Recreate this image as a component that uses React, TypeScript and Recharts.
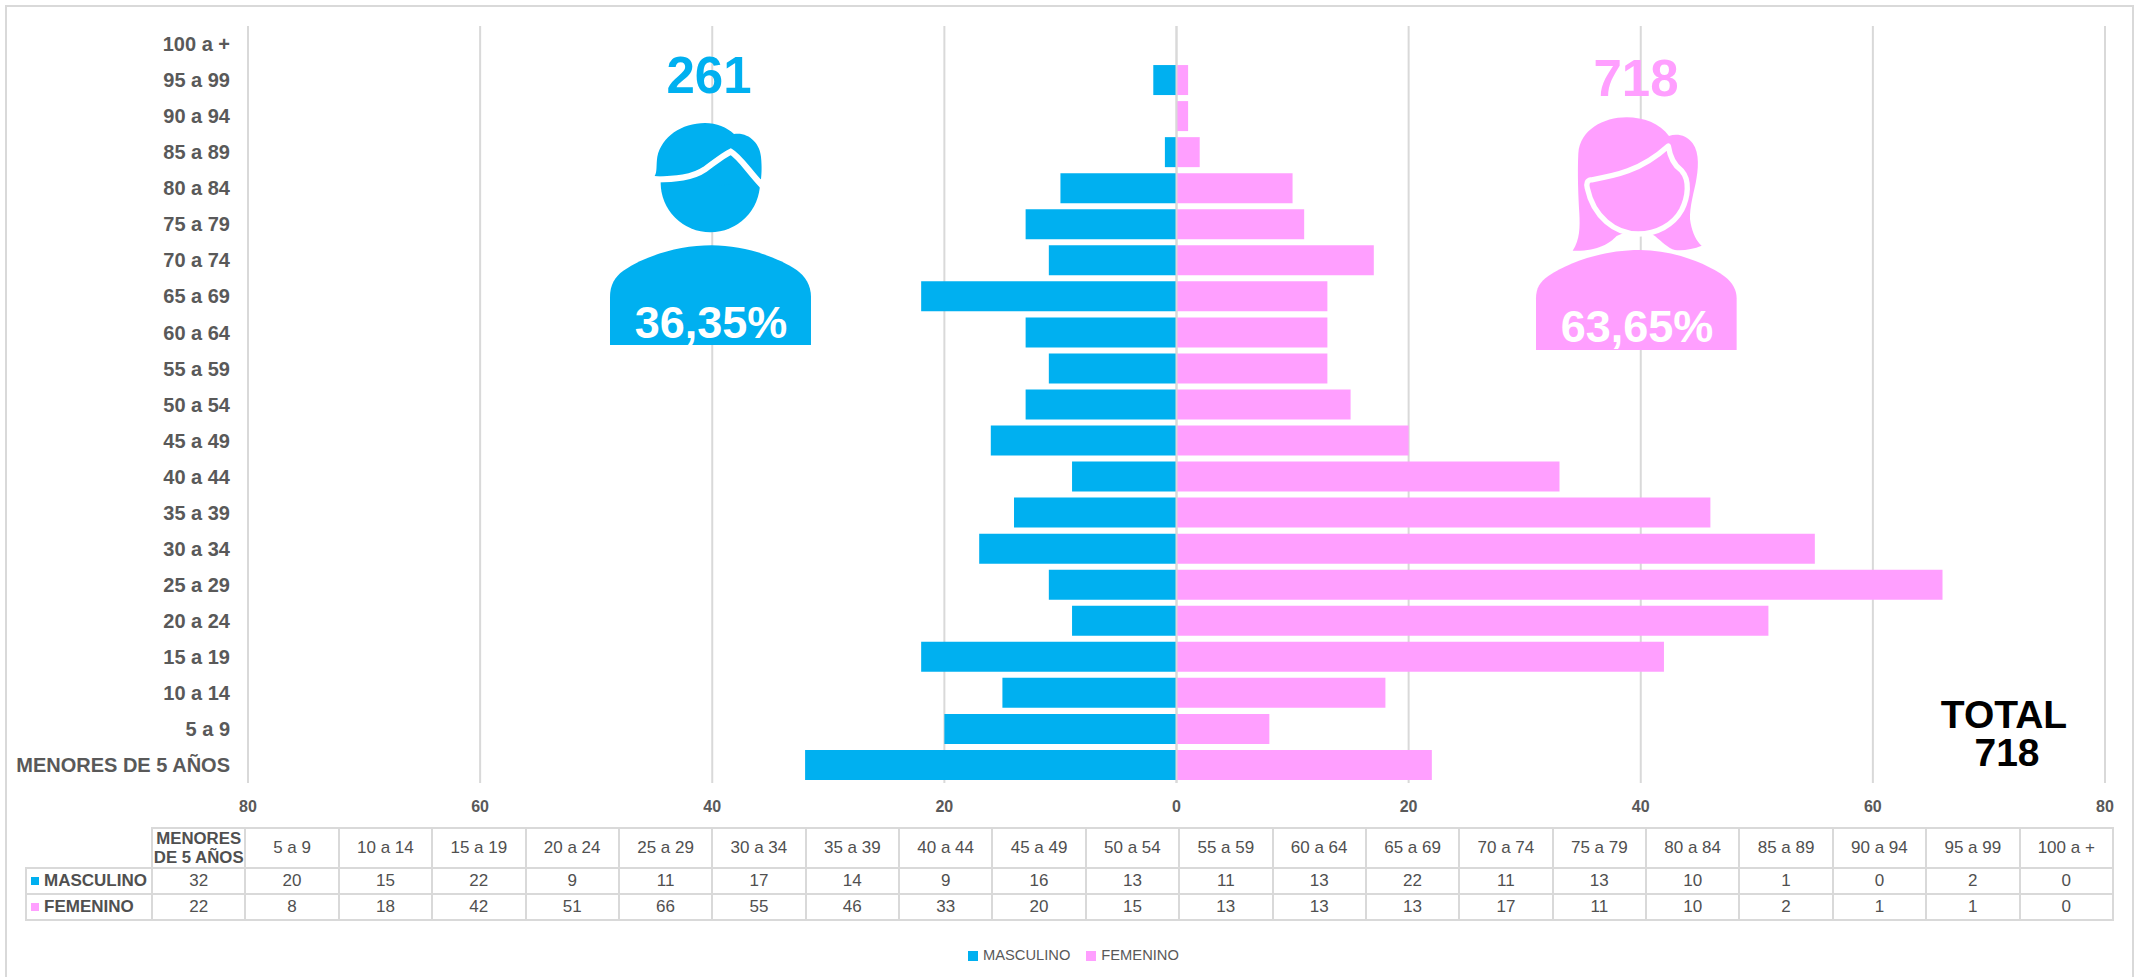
import { BarChart, Bar, XAxis, YAxis, CartesianGrid, Legend, ReferenceLine } from "recharts";

const BLUE = "#00B0F0";
const PINK = "#FF9FFF";
const GRID = "#D9D9D9";
const TEXT = "#595959";
const font = "'Liberation Sans', Arial, sans-serif";

const AGE_GROUPS = [
  "MENORES DE 5 AÑOS", "5 a 9", "10 a 14", "15 a 19", "20 a 24", "25 a 29", "30 a 34",
  "35 a 39", "40 a 44", "45 a 49", "50 a 54", "55 a 59", "60 a 64", "65 a 69",
  "70 a 74", "75 a 79", "80 a 84", "85 a 89", "90 a 94", "95 a 99", "100 a +",
];
const MASCULINO = [32, 20, 15, 22, 9, 11, 17, 14, 9, 16, 13, 11, 13, 22, 11, 13, 10, 1, 0, 2, 0];
const FEMENINO = [22, 8, 18, 42, 51, 66, 55, 46, 33, 20, 15, 13, 13, 13, 17, 11, 10, 2, 1, 1, 0];
const X_TICKS = [-80, -60, -40, -20, 0, 20, 40, 60, 80];
const SERIES_NAMES = ["MASCULINO", "FEMENINO"];

const chartData = AGE_GROUPS.map((name, i) => ({
  name,
  masculino: -MASCULINO[i],
  femenino: FEMENINO[i],
}));

const cell = {
  border: "2px solid #D9D9D9",
  padding: 0,
  textAlign: "center",
  fontSize: 17,
  color: "#505050",
} as const;

function DataTable() {
  const rows = [
    { label: SERIES_NAMES[0], color: BLUE, values: MASCULINO },
    { label: SERIES_NAMES[1], color: PINK, values: FEMENINO },
  ];
  return (
    <table
      style={{
        position: "absolute",
        left: 25,
        top: 827,
        width: 2089,
        height: 92,
        borderCollapse: "collapse",
        tableLayout: "fixed",
        fontFamily: font,
      }}
    >
      <colgroup>
        <col style={{ width: 126 }} />
        {AGE_GROUPS.map((g) => (
          <col key={g} />
        ))}
      </colgroup>
      <tbody>
        <tr style={{ height: 39 }}>
          <td style={{ ...cell, borderTop: "none", borderLeft: "none" }} />
          {AGE_GROUPS.map((g, i) => (
            <td key={g} style={{ ...cell, ...(i === 0 ? { fontWeight: 700, lineHeight: "19px", fontSize: 16.8 } : {}) }}>
              {g}
            </td>
          ))}
        </tr>
        {rows.map((r) => (
          <tr key={r.label} style={{ height: 26 }}>
            <td style={{ ...cell, textAlign: "left", fontWeight: 700, whiteSpace: "nowrap", paddingLeft: 4 }}>
              <span style={{ display: "inline-block", width: 8, height: 8, background: r.color, marginRight: 5, verticalAlign: 1 }} />
              {r.label}
            </td>
            {r.values.map((v, i) => (
              <td key={AGE_GROUPS[i]} style={cell}>
                {v}
              </td>
            ))}
          </tr>
        ))}
      </tbody>
    </table>
  );
}

function Figures() {
  const big = { fontFamily: font, fontWeight: 700, textAnchor: "middle" } as const;
  return (
    <svg width={2137} height={977} style={{ position: "absolute", left: 0, top: 0, pointerEvents: "none" }}>
      <text x={709} y={93} fontSize={51} fill={BLUE} {...big}>261</text>
      <g transform="translate(580,40) scale(0.3333)" fill={BLUE}>
        <circle cx={391} cy={428} r={149} />
        <path d="M224 408C232 395 228 375 232 350C245 290 305 249 375 249C410 249 440 262 462 282C505 275 540 310 543 350C546 380 545 400 543 418L400 440Z" />
        <path d="M205 418C290 420 340 412 375 388C400 370 430 345 452 335C480 350 510 400 550 440" fill="none" stroke="#fff" strokeWidth={18} />
        <path d="M90 915L90 770C90 735 105 710 130 692C200 645 300 616 395 616C490 616 590 650 650 690C675 708 693 735 693 770L693 915Z" />
      </g>
      <text x={711} y={338} fontSize={45} fill="#fff" {...big}>36,35%</text>

      <text x={1636} y={96} fontSize={51} fill={PINK} {...big}>718</text>
      <g transform="translate(1500,40) scale(0.3333)" fill={PINK}>
        <path d="M218 632C240 600 240 560 238 520C235 470 232 400 235 340C240 270 310 232 380 232C430 232 480 250 507 288C530 280 560 285 578 310C600 340 595 390 587 430C578 470 565 520 572 550C578 580 590 605 605 617C580 627 550 633 525 630C505 625 485 605 465 588L415 560L350 588C330 610 290 635 218 632Z" />
        <path d="M272 420C340 408 420 395 505 318C510 350 520 375 545 392C570 420 565 470 545 510C520 555 470 582 415 582C345 582 280 530 262 445C258 430 262 422 272 420Z" stroke="#fff" strokeWidth={16} strokeLinejoin="round" />
        <path d="M108 930L108 775C108 745 120 725 145 708C210 665 310 630 420 630C520 630 620 670 675 710C698 728 710 750 710 775L710 930Z" />
      </g>
      <text x={1637} y={342} fontSize={45} fill="#fff" {...big}>63,65%</text>

      <text x={2004} y={728} fontSize={39} fill="#000" {...big}>TOTAL</text>
      <text x={2007} y={766} fontSize={39} fill="#000" {...big}>718</text>
    </svg>
  );
}

function LegendRow() {
  const colors = [BLUE, PINK];
  return (
    <div style={{ display: "flex", fontFamily: font, fontSize: 14.7, color: TEXT, lineHeight: "17px" }}>
      {SERIES_NAMES.map((name, i) => (
        <span key={name} style={{ display: "flex", alignItems: "center", marginRight: 16 }}>
          <span style={{ width: 10, height: 10, background: colors[i], marginRight: 5 }} />
          {name}
        </span>
      ))}
    </div>
  );
}

export default function App() {
  return (
    <div style={{ position: "absolute", left: 0, top: 0, width: 2137, height: 977, background: "#fff", overflow: "hidden" }}>
      <div style={{ position: "absolute", left: 5, top: 5, width: 2129, height: 972, borderLeft: "2px solid #D9D9D9", borderRight: "2px solid #D9D9D9", borderTop: "2px solid #D9D9D9", boxSizing: "border-box" }} />
      <div style={{ position: "absolute", left: 0, top: 0 }}>
        <BarChart
          width={2137}
          height={977}
          data={chartData}
          layout="vertical"
          stackOffset="sign"
          barCategoryGap={3}
          margin={{ top: 26, right: 32, bottom: 137, left: 0 }}
        >
          <CartesianGrid horizontal={false} stroke={GRID} strokeWidth={2} />
          <XAxis
            type="number"
            domain={[-80, 80]}
            ticks={X_TICKS}
            tickFormatter={(v: number) => String(Math.abs(v))}
            axisLine={false}
            tickLine={false}
            tickMargin={12}
            height={40}
            tick={{ fontSize: 16, fontWeight: 700, fill: TEXT, fontFamily: font }}
          />
          <YAxis
            type="category"
            dataKey="name"
            reversed
            width={248}
            interval={0}
            axisLine={false}
            tickLine={false}
            tickSize={0}
            tickMargin={18}
            tick={{ fontSize: 20, fontWeight: 700, fill: TEXT, fontFamily: font }}
          />
          <Bar dataKey="masculino" name={SERIES_NAMES[0]} stackId="a" fill={BLUE} isAnimationActive={false} />
          <Bar dataKey="femenino" name={SERIES_NAMES[1]} stackId="a" fill={PINK} isAnimationActive={false} />
          <ReferenceLine x={0} stroke={GRID} strokeWidth={2} />
          <Legend
            content={() => <LegendRow />}
            wrapperStyle={{ position: "absolute", left: 968, top: 947, width: 260 }}
          />
        </BarChart>
      </div>
      <Figures />
      <DataTable />
    </div>
  );
}
